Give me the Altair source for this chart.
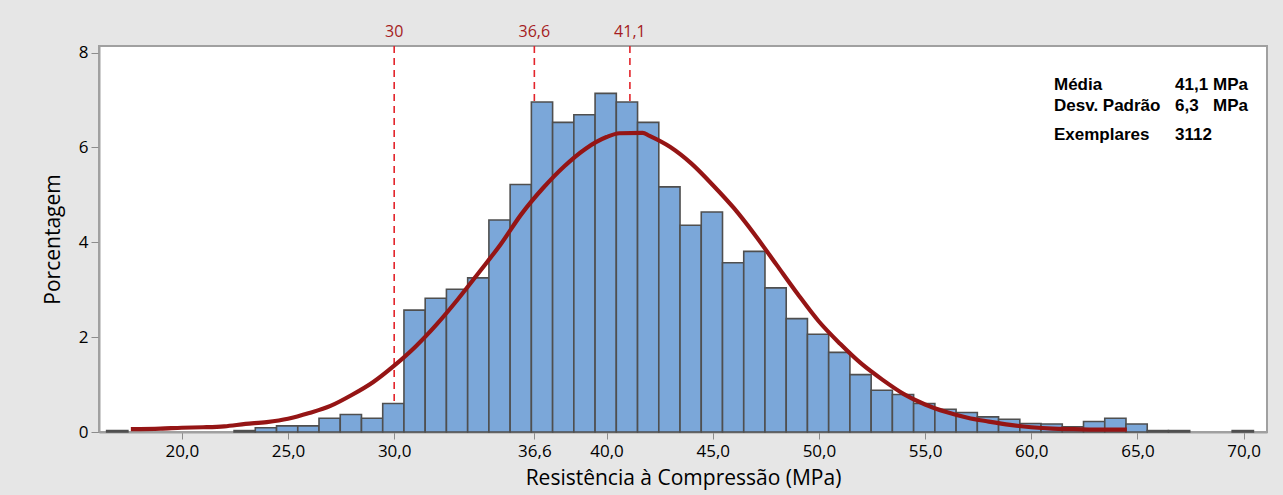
import altair as alt
import pandas as pd

# ---------------- data ----------------
bin_left = [16.46, 22.46, 23.46, 24.46, 25.46, 26.46, 27.46, 28.46, 29.46,
            30.46, 31.46, 32.46, 33.46, 34.46, 35.46, 36.46, 37.46, 38.46,
            39.46, 40.46, 41.46, 42.46, 43.46, 44.46, 45.46, 46.46, 47.46,
            48.46, 49.46, 50.46, 51.46, 52.46, 53.46, 54.46, 55.46, 56.46,
            57.46, 58.46, 59.46, 60.46, 61.46, 62.46, 63.46, 64.46, 65.46,
            66.46, 69.46]
percent = [0.03, 0.03, 0.09, 0.13, 0.13, 0.29, 0.37, 0.29, 0.60,
           2.57, 2.82, 3.01, 3.25, 4.47, 5.22, 6.96, 6.53, 6.69,
           7.14, 6.96, 6.53, 5.17, 4.36, 4.64, 3.57, 3.81, 3.04,
           2.39, 2.06, 1.68, 1.21, 0.88, 0.79, 0.60, 0.48, 0.41,
           0.32, 0.27, 0.18, 0.17, 0.11, 0.22, 0.29, 0.17, 0.03,
           0.03, 0.03]
bin_width = 1.0

curve_x = [17.6, 19.0, 20.0, 21.0, 22.0, 23.0, 24.0, 25.0, 26.0, 27.0, 28.0,
           29.0, 30.0, 31.0, 32.0, 33.0, 34.0, 35.0, 36.0, 37.0, 38.0, 39.0,
           40.0, 40.6, 41.7, 42.0, 43.0, 44.0, 45.0, 46.0, 47.0, 48.0, 49.0,
           50.0, 51.0, 52.0, 53.0, 54.0, 55.0, 56.0, 57.0, 58.0, 59.0, 60.0,
           61.0, 62.0, 63.0, 64.5]
curve_y = [0.06, 0.07, 0.09, 0.10, 0.12, 0.17, 0.21, 0.28, 0.40, 0.55, 0.78,
           1.05, 1.40, 1.80, 2.27, 2.80, 3.37, 3.95, 4.60, 5.14, 5.60, 5.97,
           6.22, 6.30, 6.31, 6.25, 6.01, 5.66, 5.21, 4.72, 4.15, 3.53, 2.91,
           2.33, 1.86, 1.44, 1.10, 0.80, 0.58, 0.42, 0.30, 0.22, 0.15, 0.10,
           0.07, 0.06, 0.05, 0.05]

ref_values = [30.0, 36.6, 41.1]
ref_labels = ["30", "36,6", "41,1"]

x_ticks = [20, 25, 30, 36.6, 40, 45, 50, 55, 60, 65, 70]
y_ticks = [0, 2, 4, 6, 8]

stat_names = ["Média", "Desv. Padrão", "Exemplares"]
stat_values = ["41,1", "6,3", "3112"]
stat_units = ["MPa", "MPa", ""]

# ---------------- layout ----------------
W, H = 1168, 386
FONT = "Open Sans"

bars = pd.DataFrame({"lo": bin_left, "pct": percent})
bars["hi"] = bars["lo"] + bin_width
bars["zero"] = 0.0
curve = pd.DataFrame({"x": curve_x, "y": curve_y})
refs = pd.DataFrame({"v": ref_values, "lab": ref_labels})

xscale = alt.Scale(domain=[16.1, 71.1], nice=False, zero=False)
yscale = alt.Scale(domain=[0, 8.14], nice=False, zero=True)

x_axis = alt.Axis(
    values=x_ticks, labelExpr="replace(format(datum.value, '.1f'), '.', ',')",
    title="Resistência à Compressão (MPa)", grid=False,
    labelFontSize=17, labelFont=FONT, labelColor="#000000",
    titleFontSize=21, titleFont=FONT, titleFontWeight="normal", titleColor="#000000",
    tickSize=7, tickColor="#8C8C8C", domainColor="#A0A0A0", domainWidth=2,
    labelPadding=4, titlePadding=8, labelOverlap=False, labelFlush=False,
)
y_axis = alt.Axis(
    values=y_ticks, title="Porcentagem", grid=False,
    labelFontSize=17, labelFont=FONT, labelColor="#000000",
    titleFontSize=21, titleFont=FONT, titleFontWeight="normal", titleColor="#000000",
    tickSize=8, tickColor="#8C8C8C", domainColor="#A0A0A0", domainWidth=2,
    labelPadding=3, titlePadding=15,
)

rules = alt.Chart(refs).mark_rule(
    color="#E3242B", strokeDash=[7, 5], strokeWidth=1.6
).encode(
    x=alt.X("v:Q", scale=xscale, axis=x_axis),
    y=alt.value(0), y2=alt.value(H),
)

hist = alt.Chart(bars).mark_rect(
    fill="#7BA7D9", stroke="#4F4F4F", strokeWidth=1.6
).encode(
    x=alt.X("lo:Q", scale=xscale, axis=x_axis),
    x2="hi:Q",
    y=alt.Y("pct:Q", scale=yscale, axis=y_axis),
    y2="zero:Q",
)

line = alt.Chart(curve).mark_line(
    color="#951515", strokeWidth=4.2, interpolate="monotone"
).encode(
    x=alt.X("x:Q", scale=xscale),
    y=alt.Y("y:Q", scale=yscale),
)

ref_text = alt.Chart(refs).mark_text(
    color="#A51C22", fontSize=16, font=FONT, baseline="middle", align="center"
).encode(
    x=alt.X("v:Q", scale=xscale),
    y=alt.value(-14),
    text="lab:N",
)

stat_layers = []
row_y = [39, 59.5, 89]
for i in range(3):
    for col, texts, px in ((0, stat_names, 955), (1, stat_values, 1076), (2, stat_units, 1114)):
        if texts[i] == "":
            continue
        stat_layers.append(
            alt.Chart(pd.DataFrame({"t": [texts[i]]})).mark_text(
                font="Liberation Sans", fontWeight="bold", fontSize=17,
                color="#000000", align="left", baseline="middle"
            ).encode(x=alt.value(px), y=alt.value(row_y[i]), text="t:N")
        )

chart = alt.layer(rules, hist, line, ref_text, *stat_layers).properties(
    width=W, height=H,
    autosize=alt.AutoSizeParams(type="none"),
    padding={"left": 99, "top": 46, "right": 16, "bottom": 63},
    background="#E6E6E6",
).configure_view(
    fill="#FFFFFF", stroke="#A0A0A0", strokeWidth=2
)

chart.save("out.html", embed_options={"renderer": "svg", "actions": False})
